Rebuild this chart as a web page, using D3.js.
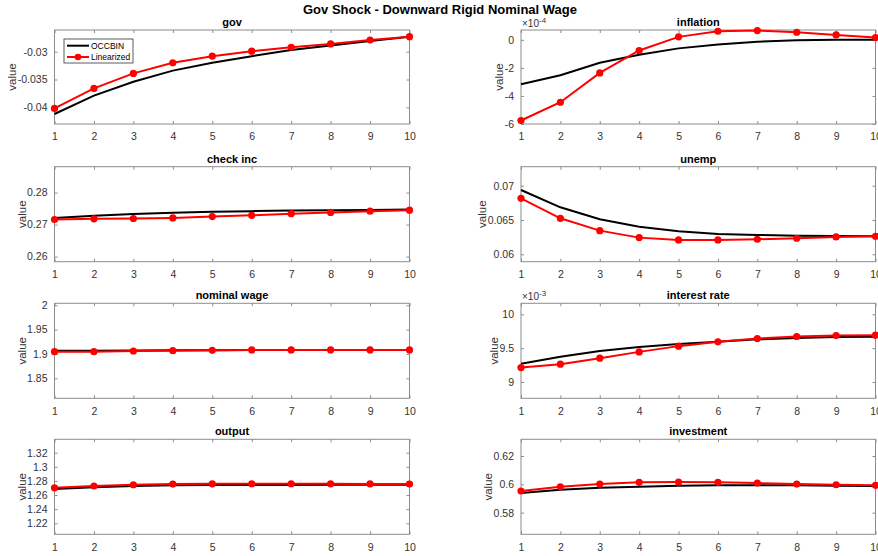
<!DOCTYPE html>
<html><head><meta charset="utf-8">
<script src="https://cdn.jsdelivr.net/npm/d3@7/dist/d3.min.js"></script>
<style>body{margin:0;background:#fff;} svg{display:block;font-family:"Liberation Sans",Arial,sans-serif;}</style>
</head><body>
<script>
const periods = [1,2,3,4,5,6,7,8,9,10];
const seriesNames = ["OCCBIN","Linearized"];
const panelTitles = ["gov","inflation","check inc","unemp","nominal wage","interest rate","output","investment"];

const govOcc = [-0.0412,-0.0379,-0.0354,-0.0334,-0.0320,-0.0308,-0.0297,-0.0289,-0.0281,-0.0273];
const govLin = [-0.0402,-0.0366,-0.0339,-0.0320,-0.0308,-0.0299,-0.0292,-0.0286,-0.0279,-0.0273];
const inflOcc = [-3.16e-4,-2.52e-4,-1.63e-4,-1.06e-4,-0.61e-4,-0.33e-4,-0.14e-4,-0.03e-4,0,0];
const inflLin = [-5.75e-4,-4.45e-4,-2.36e-4,-0.76e-4,0.21e-4,0.61e-4,0.66e-4,0.54e-4,0.35e-4,0.16e-4];
const checkOcc = [0.2721,0.2728,0.2733,0.2737,0.2740,0.2742,0.2744,0.2745,0.2746,0.2747];
const checkLin = [0.2716,0.2718,0.2719,0.2721,0.2725,0.2729,0.2734,0.2738,0.2742,0.2745];
const unempOcc = [0.06937,0.06685,0.0651,0.06403,0.06335,0.06296,0.06282,0.06272,0.06267,0.06263];
const unempLin = [0.06816,0.06525,0.06345,0.06243,0.06209,0.06209,0.06219,0.06234,0.06253,0.06263];
const wageOcc = [1.9066,1.9068,1.9072,1.9075,1.9078,1.9080,1.9081,1.9082,1.9082,1.9082];
const wageLin = [1.9047,1.9047,1.9061,1.9068,1.9075,1.9082,1.9082,1.9082,1.9082,1.9082];
const rateOcc = [9.27e-3,9.374e-3,9.459e-3,9.518e-3,9.562e-3,9.593e-3,9.63e-3,9.65e-3,9.665e-3,9.67e-3];
const rateLin = [9.213e-3,9.263e-3,9.352e-3,9.445e-3,9.53e-3,9.593e-3,9.642e-3,9.672e-3,9.686e-3,9.692e-3];
const outOcc = [1.2685,1.2709,1.2728,1.2738,1.2742,1.2743,1.2744,1.2745,1.2745,1.2745];
const outLin = [1.2702,1.2728,1.2746,1.2756,1.2759,1.2760,1.2760,1.2759,1.2758,1.2757];
const invOcc = [0.5939,0.5962,0.5976,0.5983,0.5990,0.5993,0.5993,0.5993,0.5990,0.5988];
const invLin = [0.5953,0.5983,0.6002,0.6014,0.6016,0.6014,0.6009,0.6002,0.5997,0.5993];

const yTicks = [
  [-0.04,-0.035,-0.03],
  [-6e-4,-4e-4,-2e-4,0],
  [0.26,0.27,0.28],
  [0.06,0.065,0.07],
  [1.85,1.9,1.95,2],
  [9e-3,9.5e-3,10e-3],
  [1.22,1.24,1.26,1.28,1.3,1.32],
  [0.58,0.6,0.62]
];
const yDomains = [
  [-0.043,-0.0261],
  [-6e-4,0.7e-4],
  [0.2584,0.2881],
  [0.05892,0.07277],
  [1.809,2.004],
  [8.759e-3,10.163e-3],
  [1.2044,1.339],
  [0.5647,0.6318]
];
const exponents = [0,-4,0,0,0,-3,0,0];
const occData = [govOcc,inflOcc,checkOcc,unempOcc,wageOcc,rateOcc,outOcc,invOcc];
const linData = [govLin,inflLin,checkLin,unempLin,wageLin,rateLin,outLin,invLin];

const W = 878, H = 556;
const svg = d3.select("body").append("svg").attr("width",W).attr("height",H);

svg.append("text").attr("x",440).attr("y",14).attr("text-anchor","middle")
  .attr("font-size",13).attr("font-weight","bold").attr("fill","#000")
  .text("Gov Shock - Downward Rigid Nominal Wage");

const colLeft = [54.5, 521];
const colRight = [409.5, 875.5];
const rowTop = [30, 166.7, 303.3, 439.3];
const rowBot = [124, 261.7, 398.3, 534.3];

const boxColor = "#8c8c8c", txtColor = "#333";

panelTitles.forEach((title,i)=>{
  const c = i%2, r = Math.floor(i/2);
  const x = d3.scaleLinear().domain([1,10]).range([colLeft[c],colRight[c]]);
  const y = d3.scaleLinear().domain(yDomains[i]).range([rowBot[r],rowTop[r]]);
  const g = svg.append("g");
  const ex = exponents[i];
  const fmt = v => {
    const s = ex ? v/Math.pow(10,ex) : v;
    return d3.format("~g")(+s.toPrecision(6)).replace("−","-");
  };
  g.append("rect").attr("x",colLeft[c]).attr("y",rowTop[r])
   .attr("width",colRight[c]-colLeft[c]).attr("height",rowBot[r]-rowTop[r])
   .attr("fill","#fff").attr("stroke",boxColor).attr("stroke-width",1);
  const xb = g.append("g").attr("transform",`translate(0,${rowBot[r]})`)
    .call(d3.axisBottom(x).tickValues(periods).tickSizeInner(-3).tickSizeOuter(0).tickPadding(9).tickFormat(d3.format("d")));
  const xt = g.append("g").attr("transform",`translate(0,${rowTop[r]})`)
    .call(d3.axisTop(x).tickValues(periods).tickSizeInner(-3).tickSizeOuter(0).tickFormat(""));
  const yl = g.append("g").attr("transform",`translate(${colLeft[c]},0)`)
    .call(d3.axisLeft(y).tickValues(yTicks[i]).tickSizeInner(-3).tickSizeOuter(0).tickPadding(7).tickFormat(fmt));
  const yr = g.append("g").attr("transform",`translate(${colRight[c]},0)`)
    .call(d3.axisRight(y).tickValues(yTicks[i]).tickSizeInner(-3).tickSizeOuter(0).tickFormat(""));
  [xb,xt,yl,yr].forEach(a=>{
    a.select(".domain").remove();
    a.selectAll("line").attr("stroke",boxColor);
    a.selectAll("text").attr("fill",txtColor).attr("font-size",10.5).attr("font-family","Liberation Sans, Arial, sans-serif");
  });
  let maxW = 0;
  yl.selectAll("text").each(function(){ maxW = Math.max(maxW,this.getComputedTextLength()); });
  const lx = colLeft[c] - 7 - maxW - 1.5;
  g.append("text").attr("transform",`translate(${lx},${(rowTop[r]+rowBot[r])/2}) rotate(-90)`)
   .attr("text-anchor","middle").attr("font-size",11.5).attr("fill",txtColor).text("value");
  g.append("text").attr("x",(colLeft[c]+colRight[c])/2).attr("y",rowTop[r]-4)
   .attr("text-anchor","middle").attr("font-size",11).attr("font-weight","bold").attr("fill","#000").text(title);
  if(ex){
    const t = g.append("text").attr("x",colLeft[c]+1).attr("y",rowTop[r]-3)
      .attr("font-size",10).attr("fill",txtColor);
    t.append("tspan").text("\u00d710");
    t.append("tspan").attr("dy",-4).attr("font-size",8).text(String(ex));
  }
  const clipId = "clip"+i;
  svg.append("clipPath").attr("id",clipId).append("rect")
    .attr("x",colLeft[c]-6).attr("y",rowTop[r]-6)
    .attr("width",colRight[c]-colLeft[c]+12).attr("height",rowBot[r]-rowTop[r]+12);
  const line = d3.line().x((d,k)=>x(periods[k])).y(d=>y(d));
  const pg = g.append("g").attr("clip-path",`url(#${clipId})`);
  pg.append("path").datum(occData[i]).attr("d",line).attr("fill","none")
    .attr("stroke","#000").attr("stroke-width",2);
  pg.append("path").datum(linData[i]).attr("d",line).attr("fill","none")
    .attr("stroke","#ff0000").attr("stroke-width",2);
  pg.selectAll("circle").data(linData[i]).join("circle")
    .attr("cx",(d,k)=>x(periods[k])).attr("cy",d=>y(d)).attr("r",3.6).attr("fill","#ff0000");
  if(i===0){
    const lg = g.append("g");
    lg.append("rect").attr("x",64).attr("y",39).attr("width",69).attr("height",24)
      .attr("fill","#fff").attr("stroke","#333").attr("stroke-width",0.8);
    const items = [{n:seriesNames[0],col:"#000",y:45.7,m:false},{n:seriesNames[1],col:"#ff0000",y:57,m:true}];
    items.forEach(it=>{
      lg.append("line").attr("x1",67).attr("x2",89).attr("y1",it.y).attr("y2",it.y)
        .attr("stroke",it.col).attr("stroke-width",2);
      if(it.m) lg.append("circle").attr("cx",78).attr("cy",it.y).attr("r",3.3).attr("fill",it.col);
      lg.append("text").attr("x",91).attr("y",it.y+3).attr("font-size",8.5).attr("fill","#000").text(it.n);
    });
  }
});
</script>
</body></html>
